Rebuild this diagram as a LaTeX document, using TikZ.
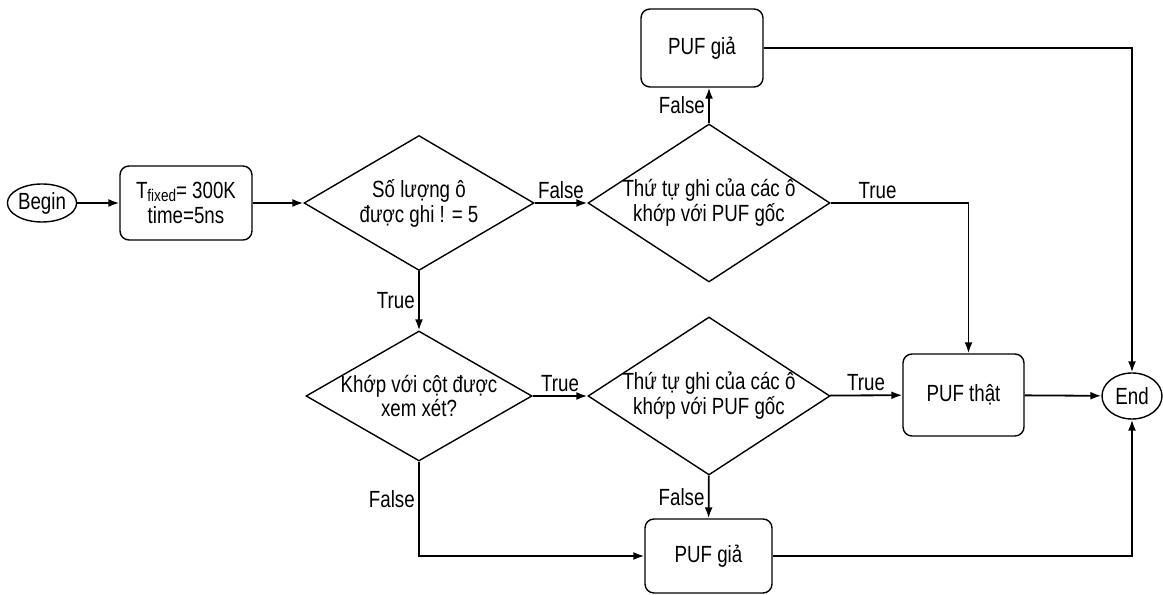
\documentclass[tikz,border=0pt]{standalone}
\usepackage{fontspec}
\setmainfont{Liberation Sans}[FakeStretch=0.8]
\usetikzlibrary{shapes.geometric,arrows.meta}
\tikzset{
  stepbox/.style={draw,rounded corners=9bp,line width=1.4bp,align=center},
  decision/.style={diamond,draw,line width=1.4bp,align=center,inner sep=-5bp},
  terminal/.style={ellipse,draw,line width=1.4bp,inner sep=0.5bp},
  flow/.style={line width=1.8bp,->},
}
\begin{document}
\begin{tikzpicture}[>={Latex[length=11bp,width=8bp]},line join=miter,font=\fontsize{23.5}{25}\selectfont]
\useasboundingbox (0bp,0bp) rectangle (1163bp,595bp);
%%
\node (begin) at (42.0bp,392.0bp) [terminal,minimum width=68bp,minimum height=38bp] {Begin};
  \node (init) at (186.0bp,392.0bp) [stepbox,minimum width=132bp,minimum height=74bp] {T{\fontsize{17}{17}\selectfont\raisebox{-3bp}{fixed}}= 300K\\time=5ns};
  \node (count) at (419.0bp,392.0bp) [decision,aspect=1.7,minimum width=230bp,minimum height=135bp] {Số lượng ô\\được ghi ! = 5};
  \node (order_a) at (709.0bp,392.0bp) [decision,aspect=1.53,minimum width=242bp,minimum height=158bp] {Thứ tự ghi của các ô\\khớp với PUF gốc};
  \node (fake_a) at (702.0bp,547.0bp) [stepbox,minimum width=122bp,minimum height=78bp] {PUF giả};
  \node (column) at (419.0bp,199.0bp) [decision,aspect=1.74,minimum width=226bp,minimum height=130bp] {Khớp với cột được\\xem xét?};
  \node (order_b) at (709.0bp,199.0bp) [decision,aspect=1.53,minimum width=242bp,minimum height=158bp] {Thứ tự ghi của các ô\\khớp với PUF gốc};
  \node (real) at (963.5bp,200.0bp) [stepbox,minimum width=121bp,minimum height=82bp] {PUF thật};
  \node (fake_b) at (708.5bp,39.0bp) [stepbox,minimum width=127bp,minimum height=74bp] {PUF giả};
  \node (end) at (1132.0bp,199.0bp) [terminal,minimum width=60bp,minimum height=46bp] {End};
  \draw [flow] (begin) -- (init);
  \draw [flow] (init) -- (count);
  \draw [flow] (count) -- node[above] {False} (order_a);
  \draw [flow] (order_a.north) -- node[left] {False} (order_a.north |- fake_a.south);
  \draw [flow] (order_a.east) -| node[pos=0.17,above] {True} ([xshift=5bp]real.north);
  \draw [flow] (fake_a.east) -| (end.north);
  \draw [flow] (count) -- node[left] {True} (column);
  \draw [flow] (column) -- node[above] {True} (order_b);
  \draw [flow] (order_b) -- node[above] {True} (real);
  \draw [flow] (real) -- (end);
  \draw [flow] (order_b) -- node[left] {False} (fake_b);
  \draw [flow] (column.south) |- node[pos=0.2,left] {False} (fake_b.west);
  \draw [flow] (fake_b.east) -| (end.south);
%
\end{tikzpicture}
\end{document}
